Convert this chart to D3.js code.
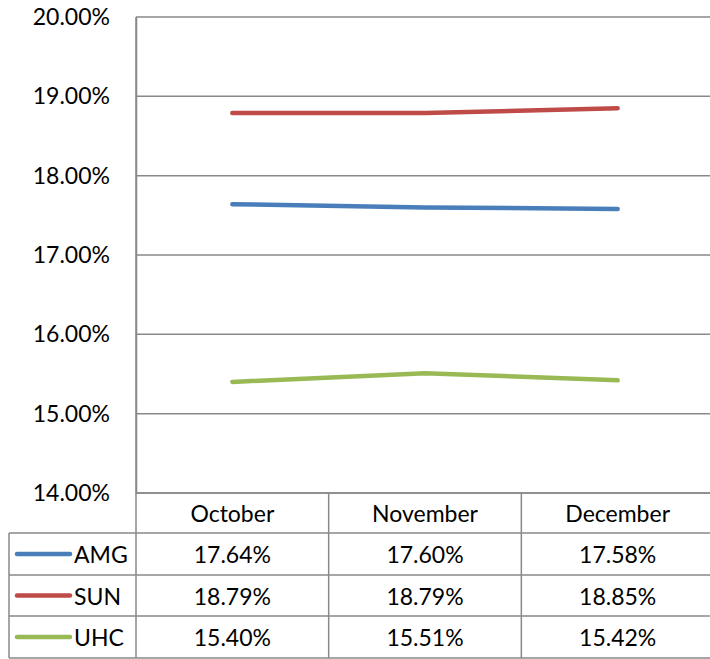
<!DOCTYPE html>
<html><head><meta charset="utf-8">
<script src="https://cdn.jsdelivr.net/npm/d3@7"></script>
<style>html,body{margin:0;padding:0;background:#fff;overflow:hidden}</style>
</head><body>
<svg id="c" width="710" height="659"></svg>
<script>
const categories = ["October", "November", "December"];
const seriesNames = ["AMG", "SUN", "UHC"];
const amg = [17.64, 17.60, 17.58];
const sun = [18.79, 18.79, 18.85];
const uhc = [15.40, 15.51, 15.42];
const yTicks = [14, 15, 16, 17, 18, 19, 20];
const colors = ["#4a7ebb", "#be4b48", "#98b954"];
const seriesValues = [amg, sun, uhc];

(function () {
const svg = d3.select("#c");
const font = "Lato, 'Open Sans', sans-serif";
const fs = 23;
const pLeft = 136, pRight = 714, pTop = 17, pBottom = 493;
const tableLeft = 9;
const rowEdges = [493, 533, 575, 616, 658];

const x = d3.scaleBand().domain(categories).range([pLeft, pRight]).padding(0);
const y = d3.scaleLinear().domain([14, 20]).range([pBottom, pTop]);
const grid = "#898989";

svg.append("g").selectAll("line").data(yTicks).join("line")
  .attr("x1", pLeft).attr("x2", 710).attr("y1", d => y(d)).attr("y2", d => y(d))
  .attr("stroke", grid).attr("stroke-width", 1.5);
const yAxis = d3.axisLeft(y).tickValues(yTicks).tickSize(0).tickPadding(0)
  .tickFormat(d => d3.format(".2f")(d) + "%");
const ga = svg.append("g").attr("transform", `translate(${pLeft},0)`).call(yAxis);
ga.select(".domain").attr("stroke", grid).attr("stroke-width", 1.5);
ga.selectAll("text").attr("x", -26).attr("font-family", font).attr("font-size", fs).attr("fill", "#000");

const line = d3.line().x((d, i) => x(categories[i]) + x.bandwidth() / 2).y(d => y(d));
seriesValues.forEach((vals, k) => {
  svg.append("path").datum(vals).attr("d", line).attr("fill", "none")
    .attr("stroke", colors[k]).attr("stroke-width", 4.5).attr("stroke-linecap", "round").attr("stroke-linejoin", "round");
});

const tg = svg.append("g");
rowEdges.forEach((ry, i) => {
  tg.append("line").attr("x1", i === 0 ? pLeft : tableLeft).attr("x2", 710)
    .attr("y1", ry).attr("y2", ry).attr("stroke", grid).attr("stroke-width", 1.5);
});
tg.append("line").attr("x1", tableLeft).attr("x2", tableLeft).attr("y1", rowEdges[1]).attr("y2", rowEdges[4]).attr("stroke", grid).attr("stroke-width", 1.5);
categories.forEach((c, i) => {
  const xx = x(c);
  tg.append("line").attr("x1", xx).attr("x2", xx).attr("y1", i === 0 ? pTop : rowEdges[0]).attr("y2", rowEdges[4])
    .attr("stroke", grid).attr("stroke-width", 1.5);
});
categories.forEach(c => {
  tg.append("text").attr("x", x(c) + x.bandwidth() / 2).attr("y", (rowEdges[0] + rowEdges[1]) / 2)
    .attr("text-anchor", "middle").attr("dominant-baseline", "central")
    .attr("font-family", font).attr("font-size", fs).text(c);
});
seriesNames.forEach((s, k) => {
  const cy = (rowEdges[k + 1] + rowEdges[k + 2]) / 2;
  tg.append("line").attr("x1", 17).attr("x2", 70).attr("y1", cy).attr("y2", cy)
    .attr("stroke", colors[k]).attr("stroke-width", 4.5).attr("stroke-linecap", "round");
  tg.append("text").attr("x", 74).attr("y", cy).attr("dominant-baseline", "central")
    .attr("font-family", font).attr("font-size", fs).text(s);
  seriesValues[k].forEach((v, i) => {
    tg.append("text").attr("x", x(categories[i]) + x.bandwidth() / 2).attr("y", cy)
      .attr("text-anchor", "middle").attr("dominant-baseline", "central")
      .attr("font-family", font).attr("font-size", fs).text(d3.format(".2f")(v) + "%");
  });
});
})();
</script>
</body></html>
